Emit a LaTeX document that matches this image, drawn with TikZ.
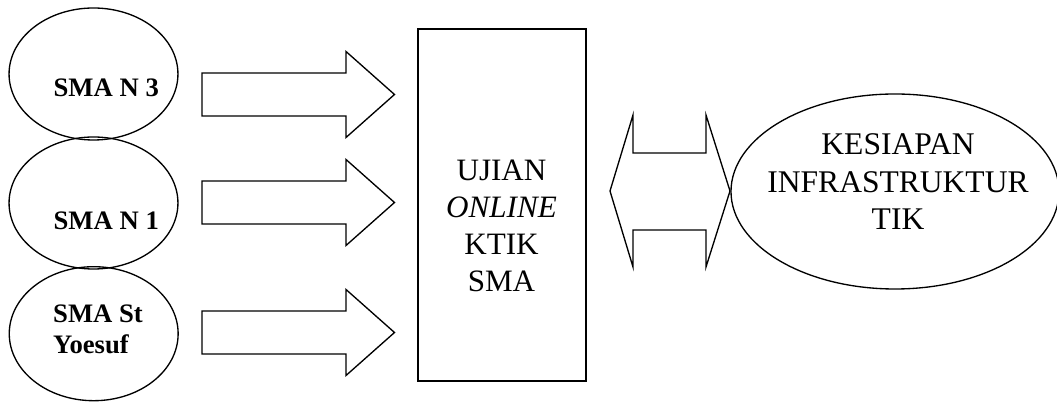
\documentclass[tikz,border=0pt]{standalone}
\usepackage{fontspec}
\setmainfont{Liberation Serif}
\usetikzlibrary{shapes.geometric}

\begin{document}
\begin{tikzpicture}[x=0.45pt,y=-0.45pt,line width=0.6pt,
    school node/.style={ellipse,draw,minimum width=76pt,minimum height=59.4pt,inner sep=0pt},
    school text/.style={font=\fontsize{12}{14}\selectfont\bfseries,align=left,inner sep=0pt},
    main text/.style={font=\fontsize{14}{16.6}\selectfont,align=center,inner sep=0pt}]
    \useasboundingbox (0,0) rectangle (1057,402);
    % schools
    \node[school node] (sma_3) at (93.5,74) {};
    \node[school node] (sma_1) at (93.5,203) {};
    \node[school node,minimum height=60.3pt] (sma_st) at (93.7,333.7) {};
    \node[school text,anchor=base west] (sma_3_txt) at (53,97) {SMA N 3};
    \node[school text,anchor=base west] (sma_1_txt) at (53,230) {SMA N 1};
    \node[school text] (sma_st_txt) at (98,329.5) {SMA St\\Yoesuf};
    % centre box and readiness
    \node[draw,minimum width=75.6pt,minimum height=158.4pt] (ujian) at (502,205) {};
    \node[main text] (ujian_txt) at (501.5,226) {UJIAN\\\textit{ONLINE}\\KTIK\\SMA};
    \node[ellipse,draw,minimum width=147.6pt,minimum height=87.75pt] (tik) at (895,191.5) {};
    \node[main text,font=\fontsize{14.2}{16.9}\selectfont] (tik_txt) at (898,182) {KESIAPAN\\INFRASTRUKTUR\\TIK};
    % block arrows
    \foreach \y in {94.5,202.5,332.5}
    \draw (202,\y-21.5) -- (346,\y-21.5) -- (346,\y-43) -- (394.5,\y)
        -- (346,\y+43) -- (346,\y+21.5) -- (202,\y+21.5) -- cycle;
    \draw (610,191) -- (633,115) -- (633,153) -- (706,153) -- (706,115) -- (730,191)
        -- (706,267) -- (706,230) -- (633,230) -- (633,267) -- cycle;
\end{tikzpicture}
\end{document}
